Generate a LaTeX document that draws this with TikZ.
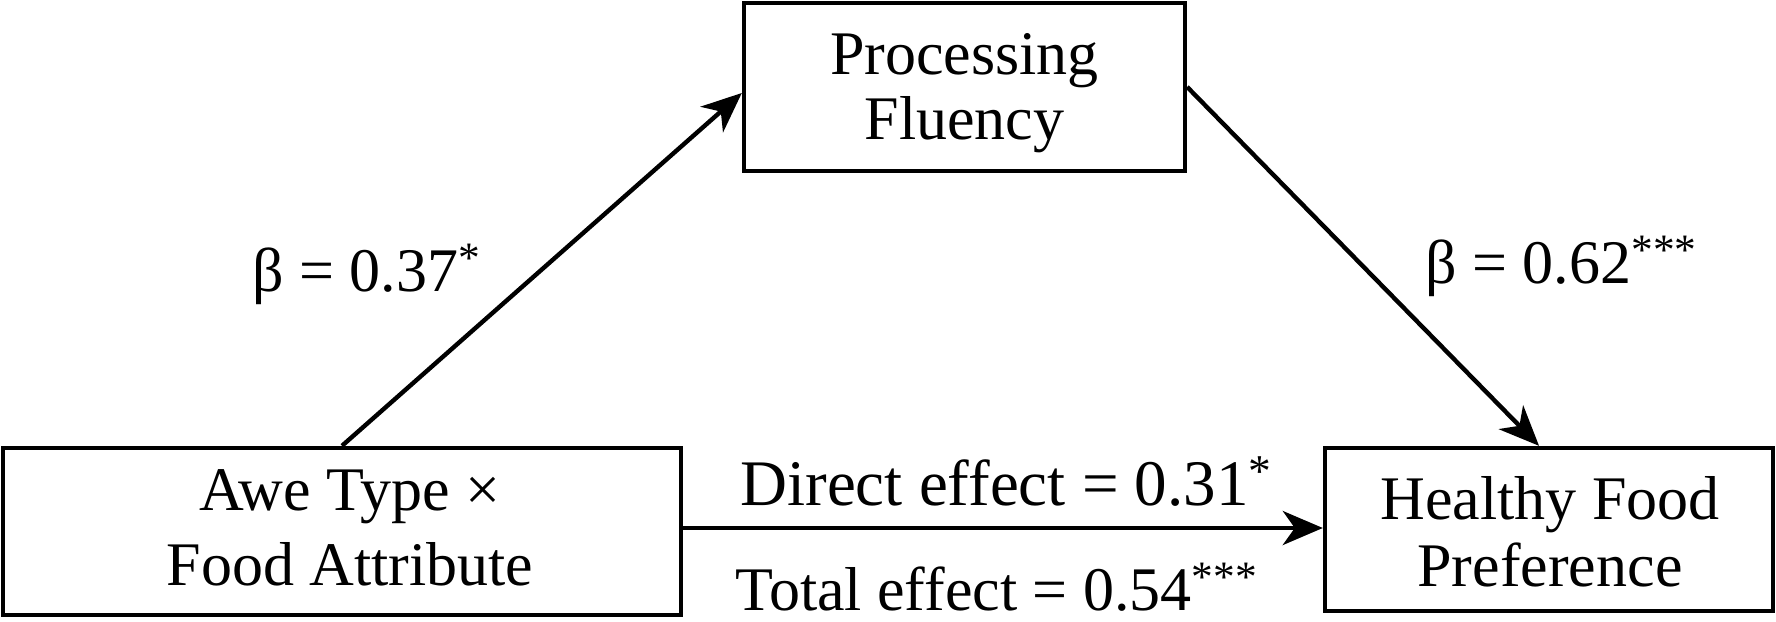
\documentclass[tikz,border=0pt]{standalone}
\usepackage{fontspec}
\setmainfont{Liberation Serif}
\usetikzlibrary{arrows.meta,calc}
\begin{document}
\begin{tikzpicture}[x=0.5pt,y=-0.5pt,
  box/.style={draw, line width=2.2pt, rectangle, inner sep=0pt},
  txt/.style={font=\fontsize{31}{37}\selectfont, anchor=base, inner sep=0pt},
  lbl/.style={font=\fontsize{31}{37}\selectfont, anchor=base west, inner sep=0pt},
  arr/.style={line width=2.2pt, -{Stealth[length=20pt,width=17pt,inset=6pt]}}]
\useasboundingbox (0,0) rectangle (1776,621);
% boxes
\node[box, minimum width=220.5pt, minimum height=84pt] (pf) at (964.5,87) {};
\node[box, minimum width=339pt, minimum height=83.5pt] (awe) at (342,531.5) {};
\node[box, minimum width=224pt, minimum height=81.5pt] (hf) at (1549,529.5) {};
% box texts
\node[txt] (pf1) at (964.5,74) {Processing};
\node[txt] (pf2) at (964.5,139) {Fluency};
\node[txt] (awe1) at (350,510) {Awe Type ×};
\node[txt] (awe2) at (350,585) {Food Attribute};
\node[txt] (hf1) at (1550,519) {Healthy Food};
\node[txt] (hf2) at (1550,586) {Preference};
% labels
\node[lbl] (b1) at (252,291) {β = 0.37\textsuperscript{*}};
\node[lbl] (b2) at (1425,283) {β = 0.62\textsuperscript{***}};
\node[lbl, font=\fontsize{32.5}{38}\selectfont] (de) at (740,505) {Direct effect = 0.31\textsuperscript{*}};
\node[lbl] (te) at (735,610) {Total effect = 0.54\textsuperscript{***}};
% connectors
\coordinate (hy) at (0,528);
\draw[arr] (awe.north) -- ($(pf.west)+(0,6)$);
\draw[arr] (pf.east) -- ($(hf.north)+(-10,0)$);
\draw[arr] (awe.east |- hy) -- (hf.west |- hy);
\end{tikzpicture}
\end{document}
